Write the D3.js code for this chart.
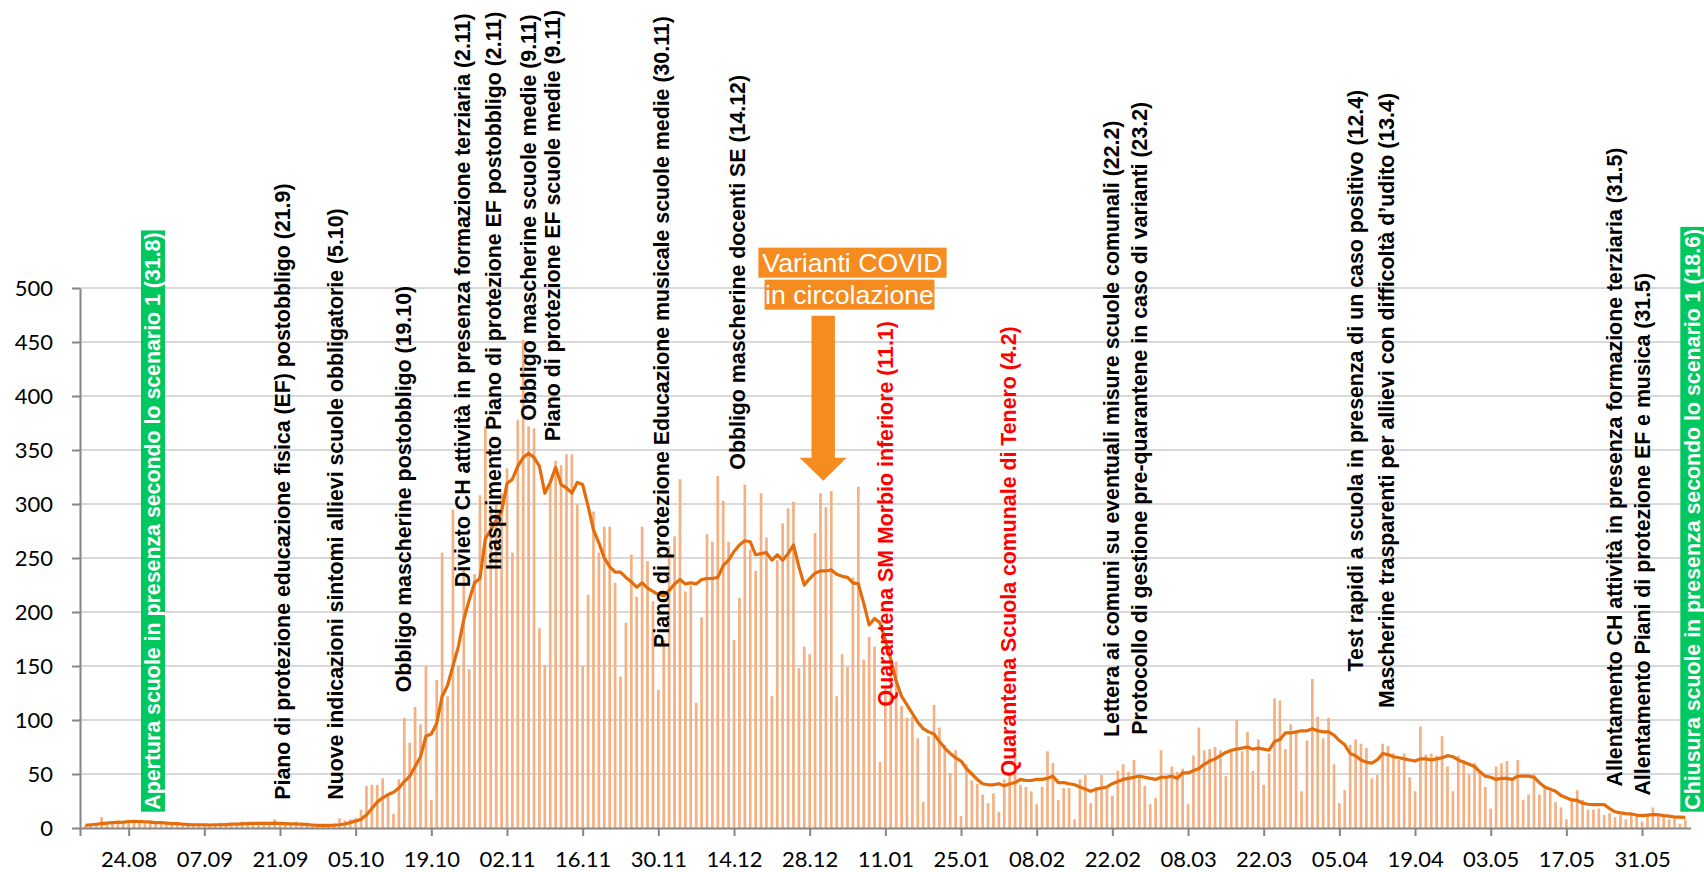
<!DOCTYPE html>
<html>
<head>
<meta charset="utf-8">
<script src="https://cdn.jsdelivr.net/npm/d3@7"></script>
<style>
body{margin:0;background:#fff;}
svg{display:block;}
</style>
</head>
<body>
<svg id="chart" width="1704" height="872"></svg>
<script>
let width = 1704, height = 872;

// daily new cases, first day 16.08.2020
let firstDay = Date.UTC(2020, 7, 16);
let cases = [
  2,3,4,10,3,6,7, 5,6,8,6,5,7,4, 6,4,5,3,4,2,3, 3,4,2,3,5,4,2,
  4,6,5,3,4,6,5, 8,4,5,3,6,4,5, 3,2,3,2,4,9,7, 8,9,17,39,40,40,46,
  32,13,45,102,79,112,96, 150,26,137,255,122,295,150, 240,147,235,308,372,293,300,
  310,333,255,378,452,372,370, 185,151,319,340,336,346,346, 300,150,216,293,255,279,279,
  227,140,190,253,214,279,247, 210,128,174,261,270,323,219, 224,116,195,272,265,326,303,
  265,174,213,318,258,238,310, 269,122,248,282,296,302,148, 168,161,273,310,297,312,122,
  161,149,232,316,156,177,168, 61,129,157,154,113,102,103, 83,24,85,114,93,77,51,
  72,11,59,44,41,31,23, 32,15,45,49,75,40,38, 34,22,38,71,60,26,37,
  37,8,45,49,23,38,49, 38,30,53,59,52,63,48, 39,22,28,72,47,57,52,
  55,22,67,93,72,73,75, 72,48,72,100,71,89,53, 82,40,69,120,118,73,96,
  88,34,81,138,103,83,102, 59,23,35,77,82,78,74, 46,49,78,76,69,63,69,
  47,34,94,68,69,67,85, 57,34,67,63,49,60,51, 38,18,57,60,62,45,63,
  26,31,50,31,39,34,24, 19,8,26,35,26,17,17, 18,12,14,10,12,8,12,
  12,6,12,19,12,11,8, 10,4,8
];
// 7-day average line as drawn
let average = [
  2.4,3,3.5,4,4.5,5,5.2, 5.5,6,6,6,5.8,5.5,5, 5,4.5,4,4,3.5,3.2,3, 3,3,2.8,3,3,3.2,3.5,
  3.5,3.8,4,4.2,4.3,4.3,4.2, 4.5,4.3,4,3.8,3.7,3.5,3.2, 2.8,2.5,2.5,2.5,2.6,3,3.7, 5,6.5,8,12,18,24,28,
  31,33,37,43,48,57,66, 85,87,97,122,132,150,168, 193,211,227,231,268,276,285,
  293,319,323,335,343,347,343, 335,310,320,334,318,315,310, 320,318,298,276,264,250,242,
  237,237,232,228,223,227,222, 219,216,215,220,226,230,226, 227,226,230,231,231,232,243,
  248,256,262,266,265,253,254, 255,248,253,248,254,262,242, 225,231,236,238,238,239,235,
  233,232,227,226,208,188,194, 190,174,156,136,122,114,106, 98,92,89,87,80,74,69,
  65,62,55,50,45,41,40, 40,41,39,41,42,45,44, 44,45,45,46,48,42,42,
  41,40,38,36,34,36,37, 38,41,43,45,46,47,48, 47,46,45,47,47,48,46,
  51,51,53,55,59,62,64, 67,70,72,73,74,75,73, 74,73,72,80,82,88,88,
  89,90,90,92,90,89,89, 86,81,77,69,67,63,61, 60,63,69,68,66,65,64,
  63,62,64,64,63,64,65, 67,66,63,61,59,57,52, 48,47,45,46,46,45,48,
  48,48,47,42,38,36,34, 30,28,26,25.6,23,22,21.6, 21.6,21.6,18,15,14,13.3,13,
  12,11.4,12,12.3,12.3,11.5,11, 10.2,10,9.9
];
let tickLabels = ['24.08','07.09','21.09','05.10','19.10','02.11','16.11','30.11','14.12','28.12',
  '11.01','25.01','08.02','22.02','08.03','22.03','05.04','19.04','03.05','17.05','31.05'];
let yTicks = [0,50,100,150,200,250,300,350,400,450,500];

// event labels: text, days after 15.08, value where the text starts, style
let events = [
  ['Apertura scuole in presenza secondo lo scenario 1 (31.8)', 13.5, 15.1, 'box'],
  ['Piano di protezione educazione fisica (EF) postobbligo (21.9)', 37.4, 26.2, 'black'],
  ['Nuove indicazioni sintomi allievi scuole obbligatorie (5.10)', 47.2, 26.2, 'black'],
  ['Obbligo mascherine postobbligo (19.10)', 59.8, 125.6, 'black'],
  ['Divieto CH attività in presenza formazione terziaria (2.11)', 70.7, 223, 'black'],
  ['Inasprimento Piano di protezione EF postobbligo (2.11)', 76.6, 239, 'black'],
  ['Obbligo mascherine scuole medie (9.11)', 82.9, 377, 'black'],
  ['Piano di protezione EF scuole medie (9.11)', 87.5, 358, 'black'],
  ['Piano di protezione Educazione musicale scuole medie (30.11)', 107.6, 166.7, 'black'],
  ['Obbligo mascherine docenti SE (14.12)', 121.7, 331.8, 'black'],
  ['Quarantena SM Morbio inferiore (11.1)', 149.1, 112.6, 'red'],
  ['Quarantena Scuola comunale di Tenero (4.2)', 171.7, 47.8, 'red'],
  ['Lettera ai comuni su eventuali misure scuole comunali (22.2)', 190.9, 84.3, 'black'],
  ['Protocollo di gestione pre-quarantene in caso di varianti (23.2)', 196.1, 86.4, 'black'],
  ['Test rapidi a scuola in presenza di un caso positivo (12.4)', 235.9, 145, 'black'],
  ['Mascherine trasparenti per allievi con difficoltà d\u2019udito (13.4)', 241.8, 111, 'black'],
  ['Allentamento CH attività in presenza formazione terziaria (31.5)', 284.0, 38.5, 'black'],
  ['Allentamento Piani di protezione EF e musica (31.5)', 289.0, 30, 'black'],
  ['Chiusura scuole in presenza secondo lo scenario 1 (18.6)', 298.3, 15.1, 'box']
];
let calloutLines = ['Varianti COVID', 'in circolazione'];
let calloutDay = 137.5, calloutTip = 321.6;

let dayMs = 864e5;
let days = cases.map((v,i)=>new Date(firstDay + i*dayMs));
let startDate = new Date(firstDay - dayMs), endDate = new Date(firstDay + cases.length*dayMs);
function dayOffset(d){ return new Date(startDate.getTime() + d*dayMs); }
function parseLabel(s){
  let [dd,mm] = s.split('.').map(Number);
  return new Date(Date.UTC(mm >= 8 ? 2020 : 2021, mm-1, dd));
}

let svg = d3.select('#chart');
let x = d3.scaleUtc().domain([startDate, endDate]).range([80, 1690.7]);
let y = d3.scaleLinear().domain([0, 500]).range([828, 288]);

// gridlines
svg.append('g').selectAll('line').data(yTicks.slice(1)).join('line')
  .attr('x1', 80).attr('x2', 1690.7)
  .attr('y1', d=>y(d)).attr('y2', d=>y(d))
  .attr('stroke', '#d9d9d9').attr('stroke-width', 2);

// bars
let barW = 2.7;
svg.append('g').selectAll('rect').data(cases).join('rect')
  .attr('x', (d,i)=>x(days[i]) - barW/2)
  .attr('y', d=>y(d))
  .attr('width', barW)
  .attr('height', d=>y(0) - y(d))
  .attr('fill', '#f4b183');

// moving average
let line = d3.line().x((d,i)=>x(days[i])).y(d=>y(d));
svg.append('path').datum(average)
  .attr('d', line)
  .attr('fill', 'none')
  .attr('stroke', '#e46c0a')
  .attr('stroke-width', 3.2)
  .attr('stroke-linejoin', 'round');

// axes
let axisColor = '#868686';
let yAxis = svg.append('g').attr('transform', 'translate(80,0)')
  .call(d3.axisLeft(y).tickValues(yTicks).tickSize(8).tickSizeOuter(0).tickPadding(19));
let xAxis = svg.append('g').attr('transform', `translate(0,${y(0)})`)
  .call(d3.axisBottom(x).tickValues(tickLabels.map(parseLabel)).tickSize(8).tickSizeOuter(0)
    .tickPadding(15).tickFormat((d,i)=>tickLabels[i]));
svg.append('g').attr('transform', `translate(0,${y(0)})`)
  .attr('color', axisColor)
  .call(d3.axisBottom(x).tickValues([startDate]).tickSize(8).tickSizeOuter(0).tickFormat(''))
  .call(g=>g.select('.domain').remove())
  .selectAll('line').attr('stroke-width', 2);
[yAxis, xAxis].forEach(g=>{
  g.attr('color', axisColor);
  g.selectAll('path,line').attr('stroke-width', 2);
  g.selectAll('text').attr('fill', '#000')
    .style('font-family', 'Lato, "Open Sans", sans-serif').style('font-size', '22px');
});

// event labels
let colors = {black:'#000', red:'#ff0000', box:'#fff'};
let ev = svg.append('g');
events.forEach(([label, d, v, kind])=>{
  let g = ev.append('g').attr('transform', `translate(${x(dayOffset(d))},${y(v)}) rotate(-90)`);
  let rect = kind === 'box' ? g.append('rect') : null;
  let t = g.append('text')
    .attr('x', kind === 'box' ? 2 : 0)
    .attr('dy', '0.35em')
    .attr('fill', colors[kind])
    .style('font-family', '"Liberation Sans", Arial, sans-serif')
    .style('font-weight', 'bold')
    .style('font-size', '21.33px')
    .text(label);
  if(rect){
    let len = t.node().getComputedTextLength();
    rect.attr('x', 0).attr('y', -12).attr('width', len + 4).attr('height', 24).attr('fill', '#00c85f');
  }
});

// variants callout with arrow
let tipX = x(dayOffset(calloutDay)), tipY = y(calloutTip);
let orange = '#f68b1f';
svg.append('path')
  .attr('d', `M${tipX},${tipY} L${tipX-23.5},${tipY-23} L${tipX-11.7},${tipY-23} L${tipX-11.7},${tipY-165}
    L${tipX+11.7},${tipY-165} L${tipX+11.7},${tipY-23} L${tipX+23.5},${tipY-23} Z`)
  .attr('fill', orange);
let boxes = [{cx: tipX + 29.3, top: tipY - 233, pad: 4}, {cx: tipX + 26.3, top: tipY - 201, pad: 0.5}];
calloutLines.forEach((s,i)=>{
  let b = boxes[i];
  let r = svg.append('rect').attr('fill', orange);
  let t = svg.append('text')
    .attr('x', b.cx).attr('y', b.top + 24.5)
    .attr('text-anchor', 'middle')
    .attr('fill', '#fff')
    .style('font-family', '"Liberation Sans", Arial, sans-serif')
    .style('font-size', '26.67px')
    .text(s);
  let w = t.node().getComputedTextLength() + 2*b.pad;
  r.attr('x', b.cx - w/2).attr('y', b.top).attr('width', w).attr('height', 30);
});
</script>
</body>
</html>
